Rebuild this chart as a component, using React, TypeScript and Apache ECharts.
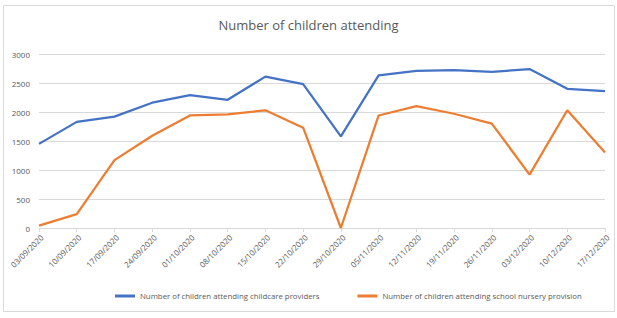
import React, { useEffect, useRef } from "react";
import * as echarts from "echarts";

const dates = ["03/09/2020","10/09/2020","17/09/2020","24/09/2020","01/10/2020","08/10/2020","15/10/2020","22/10/2020","29/10/2020","05/11/2020","12/11/2020","19/11/2020","26/11/2020","03/12/2020","10/12/2020","17/12/2020"];
const childcare = [1450,1830,1920,2160,2290,2210,2610,2480,1580,2630,2710,2720,2690,2740,2400,2360];
const nursery = [40,240,1170,1590,1940,1960,2030,1730,0,1940,2100,1970,1800,920,2030,1300];
const yTicks = [0, 3000, 500];

export default function App() {
  const ref = useRef<HTMLDivElement>(null);
  useEffect(() => {
    document.body.style.margin = "0";
    const chart = echarts.init(ref.current!, null, { renderer: "svg" });
    const font = "'Open Sans', sans-serif";
    chart.setOption({
      animation: false,
      backgroundColor: "#fff",
      textStyle: { fontFamily: font },
      title: {
        text: "Number of children attending",
        left: "center",
        top: 13,
        textStyle: { fontSize: 13, fontWeight: "normal", color: "#595959", fontFamily: font },
      },
      graphic: [
        { type: "rect", shape: { x: 3.5, y: 5.5, width: 611, height: 306 }, style: { fill: "none", stroke: "#d9d9d9", lineWidth: 1 }, silent: true, z: -1 },
      ],
      legend: {
        top: 287,
        left: 110,
        itemGap: 38,
        itemWidth: 20,
        itemHeight: 3,
        itemTextGap: 2,
        icon: "rect",
        textStyle: { fontSize: 7.8, color: "#595959", fontFamily: font },
        data: ["Number of children attending childcare providers", "Number of children attending school nursery provision"],
      },
      grid: { left: 39, right: 12, top: 54, bottom: 90 },
      xAxis: {
        type: "category",
        boundaryGap: false,
        data: dates,
        axisLine: { lineStyle: { color: "#d9d9d9" } },
        axisTick: { show: true, length: 4, lineStyle: { color: "#d9d9d9" } },
        axisLabel: { rotate: 45, fontSize: 8, color: "#595959", margin: 5, interval: 0, verticalAlign: "top", fontFamily: font },
      },
      yAxis: {
        type: "value",
        min: yTicks[0],
        max: yTicks[1],
        interval: yTicks[2],
        axisLine: { show: false },
        axisTick: { show: false },
        splitLine: { lineStyle: { color: "#d9d9d9" } },
        axisLabel: { fontSize: 8, color: "#595959", margin: 9, fontFamily: font, formatter: (v: number) => String(v) },
      },
      series: [
        { name: "Number of children attending childcare providers", type: "line", data: childcare, symbol: "none", lineStyle: { width: 2.25, color: "#4472c4" }, itemStyle: { color: "#4472c4" } },
        { name: "Number of children attending school nursery provision", type: "line", data: nursery, symbol: "none", lineStyle: { width: 2.25, color: "#ed7d31" }, itemStyle: { color: "#ed7d31" } },
      ],
    });
    return () => chart.dispose();
  }, []);
  return <div ref={ref} style={{ width: 617, height: 318 }} />;
}
